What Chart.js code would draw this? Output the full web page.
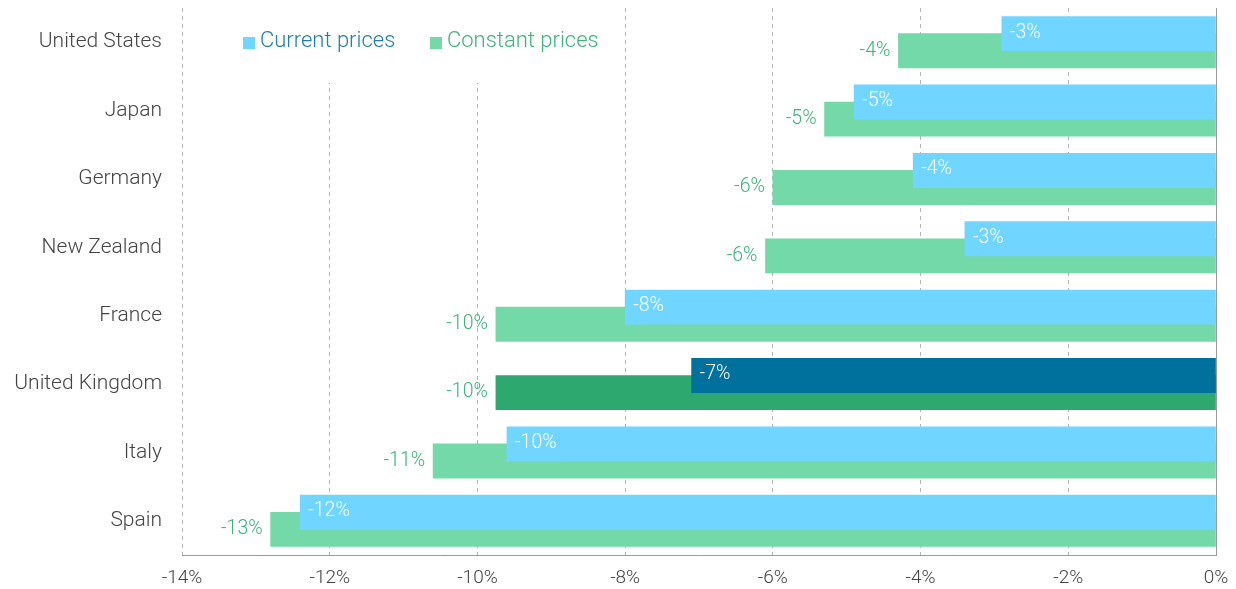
<!DOCTYPE html>
<html>
<head>
<meta charset="utf-8">
<script src="https://cdn.jsdelivr.net/npm/chart.js@4.4.1/dist/chart.umd.min.js"></script>
<style>
  html, body { margin: 0; padding: 0; background: #fff; }
  #wrap { width: 1236px; height: 589px; position: relative; }
</style>
</head>
<body>
<div id="wrap"><canvas id="chart"></canvas></div>
<script>
// datos
const paises = ["United States", "Japan", "Germany", "New Zealand", "France", "United Kingdom", "Italy", "Spain"];
const preciosCorrientes = [-2.9, -4.9, -4.1, -3.4, -8.0, -7.1, -9.6, -12.4];
const preciosConstantes = [-4.3, -5.3, -6.0, -6.1, -9.75, -9.75, -10.6, -12.8];
const ticksX = [-14, -12, -10, -8, -6, -4, -2, 0];
const destacado = "United Kingdom";

const FUENTE = "Roboto, 'Noto Sans', sans-serif";
const azulClaro = "#70d6ff", azulOscuro = "#00709c";
const verdeClaro = "#74d9a9", verdeOscuro = "#2da86e";

const coloresAzul = paises.map(p => p === destacado ? azulOscuro : azulClaro);
const coloresVerde = paises.map(p => p === destacado ? verdeOscuro : verdeClaro);

// etiquetas de las barras, linea del cero y leyenda
const etiquetasPlugin = {
  id: "etiquetas",
  beforeDatasetsDraw(chart) {
    const ctx = chart.ctx;
    ctx.save();
    // caja blanca de la leyenda tapa la reticula
    ctx.fillStyle = "#fff";
    ctx.fillRect(232, 0, 380, 83);
    ctx.font = "300 22px " + FUENTE;
    ctx.textBaseline = "middle";
    ctx.fillStyle = azulClaro;
    ctx.fillRect(243, 37, 12, 12);
    ctx.fillStyle = "#1b7fa6";
    ctx.fillText("Current prices", 260, 41);
    ctx.fillStyle = verdeClaro;
    ctx.fillRect(430, 37, 12, 12);
    ctx.fillStyle = "#3bb37b";
    ctx.fillText("Constant prices", 447, 41);
    ctx.restore();
  },
  afterDatasetsDraw(chart) {
    const ctx = chart.ctx;
    const area = chart.chartArea;
    const x = chart.scales.x;
    ctx.save();
    // linea del cero solida
    ctx.strokeStyle = "#9a9a9a";
    ctx.lineWidth = 1;
    ctx.beginPath();
    ctx.moveTo(Math.round(x.getPixelForValue(0)) + 0.5, area.top);
    ctx.lineTo(Math.round(x.getPixelForValue(0)) + 0.5, area.bottom);
    ctx.stroke();

    ctx.font = "300 19.5px " + FUENTE;
    ctx.textBaseline = "middle";
    const metaAzul = chart.getDatasetMeta(0);
    const metaVerde = chart.getDatasetMeta(1);
    metaVerde.data.forEach((bar, i) => {
      ctx.fillStyle = "#3bb37b";
      ctx.textAlign = "right";
      ctx.fillText(Math.round(preciosConstantes[i]) + "%", bar.x - 8, bar.y);
    });
    metaAzul.data.forEach((bar, i) => {
      ctx.fillStyle = "#fff";
      ctx.textAlign = "left";
      ctx.fillText(Math.round(preciosCorrientes[i]) + "%", bar.x + 8, bar.y - 1);
    });
    ctx.restore();
  }
};

new Chart(document.getElementById("chart"), {
  type: "bar",
  data: {
    labels: paises,
    datasets: [
      {
        label: "Current prices",
        data: preciosCorrientes,
        backgroundColor: coloresAzul,
        categoryPercentage: 0.5,
        barPercentage: 2
      },
      {
        label: "Constant prices",
        data: preciosConstantes,
        backgroundColor: coloresVerde,
        categoryPercentage: 0.5,
        barPercentage: 2
      }
    ]
  },
  options: {
    indexAxis: "y",
    responsive: true,
    maintainAspectRatio: false,
    animation: false,
    layout: { padding: { top: 8, right: 20, bottom: 0, left: 0 } },
    plugins: {
      legend: { display: false },
      tooltip: { enabled: false }
    },
    scales: {
      x: {
        min: -14,
        max: 0,
        afterBuildTicks: (scale) => { scale.ticks = ticksX.map(v => ({ value: v })); },
        afterFit: (scale) => {
          scale.height = 34;
          scale.paddingLeft = 0;
          scale.paddingRight = 0;
        },
        grid: { color: "#b5b5b5", drawTicks: false },
        border: { display: true, color: "#9a9a9a", dash: [4, 4] },
        ticks: {
          padding: 12,
          color: "#444",
          font: { family: FUENTE, size: 19, weight: 300 },
          callback: (v) => v + "%"
        }
      },
      y: {
        afterFit: (scale) => {
          scale.width = 182;
          scale.paddingTop = 0;
          scale.paddingBottom = 0;
        },
        grid: { display: false },
        border: { display: false },
        ticks: {
          padding: 12,
          color: "#444",
          font: { family: FUENTE, size: 21, weight: 300 }
        }
      }
    }
  },
  plugins: [etiquetasPlugin]
});
</script>
</body>
</html>
